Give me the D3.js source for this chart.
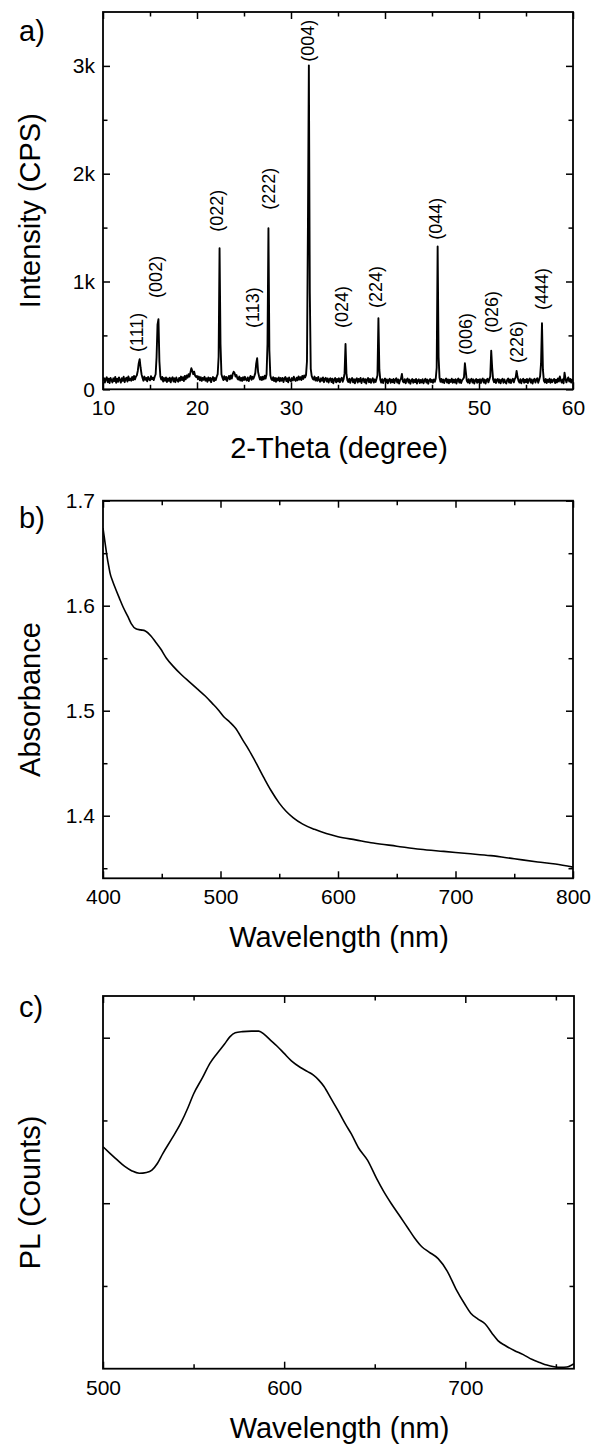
<!DOCTYPE html>
<html><head><meta charset="utf-8">
<script src="https://cdn.jsdelivr.net/npm/d3@7"></script>
<style>
html,body{margin:0;padding:0;background:#fff;}
svg text{font-family:"Liberation Sans", Arial, sans-serif; fill:#000;}
</style></head><body>
<svg id="chart" width="595" height="1447"></svg>
<script>
// ---------- Panel a: XRD (2-Theta from 10 to 60, step 0.1) ----------
const xrdStart = 10, xrdStep = 0.1;
const xrdCounts = [
 78,104, 62, 96,112, 66, 98, 58,106, 84,
 64,102, 76,114, 60, 98, 70,110, 86, 62,
104, 78,116, 66, 96,108, 72,120, 84,100,
 80,114, 86,124, 92,116,130,170,240,279,
200,140,108, 80,118, 88,106, 74,114, 92,
 84,122, 94,108, 86,116,140,300,600,650,
260,120, 90,114, 72,104, 80,110, 68,100,
 78,108, 64, 98,112, 72,102, 66,110, 84,
 70,106, 80,118, 86,112, 76,124, 92,128,
108,140,118,156,195,172,140,164,126,114,
124, 94,118, 84,112, 78,106, 88,116, 80,
102, 70,110, 82,106, 66, 98,114, 76,104,
 86,118,140,300,1309,420,140,110, 86,122,
 90,114, 76,106,124, 92,128,100,140,163,
150,118,132,100, 90,118, 82,106, 78,112,
 86,116, 90, 82,110, 76,104,124, 88,116,
 98,122,150,240,288,160,122, 90,114, 86,
116, 92,126,100,140,420,1495,360,130, 96,
 86,112, 76,106, 70,102, 82,110, 74,104,
 80,106, 68,100,114, 76,102, 64,110, 84,
 74,104, 82,116, 88, 78,108, 84,120, 90,
112, 86,124, 96,128,110,134,260,1500,3005,
900,190,124,100, 90,118, 82,106, 78,114,
 86, 70,102, 80,110, 66, 96,106, 72,100,
 62, 94,102, 68, 98, 56, 90,104, 64, 96,
 72,102, 66, 94,106, 70, 96,150,420,140,
 84, 68, 98, 60, 92,104, 64, 94, 56, 90,
102, 62, 96, 72,106, 58, 92,100, 64, 94,
 54, 90,104, 66, 96, 60, 86,102, 62, 92,
 68, 98,130,659,180, 88, 62, 94, 58, 86,
100, 64, 92, 56, 86, 98, 60, 90, 66, 96,
 58, 88,102, 62, 92, 54, 84, 98,142, 72,
 64, 94, 56, 86,100, 62, 90, 52, 82, 96,
 60, 88, 66, 96, 54, 84, 92, 58, 86, 64,
 94, 56, 82, 98, 62, 90, 52, 84, 96, 66,
 88, 60, 92, 70,100,200,1324,300,110, 70,
 96, 64, 90, 58, 86,100, 62, 92, 56, 88,
 68, 98, 60, 90, 64, 94, 54, 86,100, 62,
 90, 58, 84, 96,110,241,160, 80, 64, 94,
 56, 86, 98, 62, 92, 54, 84, 96, 60, 90,
 66, 94, 58, 88,100, 62, 90, 54, 86, 98,
 64, 92,120,358,200, 92, 66, 94, 58, 88,
 96, 62, 90, 56, 86, 98, 60, 92, 66, 54,
 88,100, 62, 92, 58, 86, 98, 64, 94,110,
170,116, 78, 62, 94, 56, 86, 98, 60, 90,
 66, 96, 58, 88,100, 62, 92, 54, 86, 98,
 62, 90,102, 60, 88,120,240,613,180, 80,
 64, 96, 58, 90, 68, 98, 60, 92, 66, 86,
 96, 58, 90, 64,100, 72,120, 82, 62, 92,
 56,154, 98, 64, 94,110, 72, 96, 62, 90,
 70
];
const xrdXTicks = [10, 20, 30, 40, 50, 60];
const xrdXMinor = [15, 25, 35, 45, 55];
const xrdYTicks = [0, 1000, 2000, 3000];
const xrdYMinor = [500, 1500, 2500];
const xrdYTickLabels = ["0", "1k", "2k", "3k"];
const peakLabels = ["(111)","(002)","(022)","(113)","(222)","(004)","(024)","(224)","(044)","(006)","(026)","(226)","(444)"];
const peakLabelTheta = [13.62, 15.64, 22.13, 25.9, 27.66, 31.81, 35.43, 39.04, 45.43, 48.62, 51.38, 54.04, 56.65];
const peakLabelCps = [346, 848, 1462, 569, 1665, 3039, 569, 755, 1387, 318, 523, 244, 736];

// ---------- Panel b: Absorbance ----------
const absWavelength = [400,401,402,403,404,405,406,408,410,414,417,421,424,428,432,436,441,445,449,454,460,467,474,480,487,493,498,503,508,513,519,524,529,537,543,550,556,562,570,580,590,600,615,630,650,670,690,710,730,750,770,785,800];
const absValue = [1.674,1.666,1.658,1.650,1.643,1.637,1.631,1.624,1.618,1.607,1.599,1.590,1.583,1.578,1.577,1.576,1.571,1.565,1.559,1.550,1.542,1.534,1.527,1.521,1.514,1.507,1.501,1.494,1.489,1.483,1.472,1.463,1.453,1.436,1.424,1.412,1.404,1.398,1.392,1.387,1.383,1.380,1.377,1.374,1.371,1.368,1.366,1.364,1.362,1.359,1.356,1.354,1.351];
const absXTicks = [400, 500, 600, 700, 800];
const absXMinor = [450, 550, 650, 750];
const absYTicks = [1.4, 1.5, 1.6, 1.7];
const absYMinor = [1.35, 1.45, 1.55, 1.65];

// ---------- Panel c: PL ----------
const plWavelength = [500,504,508,512,516,520,524,527,530,533,538,543,547,550,555,559,563,567,570,573,577,582,586,589,592,596,600,604,609,613,616,619,622,626,630,634,637,641,646,651,655,659,664,668,672,676,680,685,690,695,700,703,707,711,715,718,722,727,732,737,741,745,749,753,756,758,760];
const plCounts = [1341,1300,1260,1222,1195,1181,1186,1200,1240,1300,1390,1485,1580,1660,1760,1845,1905,1960,2005,2030,2037,2040,2040,2020,1990,1950,1905,1860,1820,1795,1775,1745,1705,1630,1555,1475,1420,1335,1260,1150,1070,1000,920,855,790,737,705,665,590,478,385,335,300,270,210,170,140,110,85,55,38,22,12,8,10,18,30];
const plXTicks = [500, 600, 700];
const plXMinor = [550, 650, 750];
const plYTicks = [1000, 2000];
const plYMinor = [500, 1500];

const svg = d3.select("#chart");
svg.append("rect").attr("width", 595).attr("height", 1447).attr("fill", "#fff");

function styleAxis(sel) {
  sel.select(".domain").remove();
  sel.attr("font-size", null).attr("font-family", null);
  sel.selectAll("line").attr("stroke", "#000").attr("stroke-width", 1.5);
  sel.selectAll("text").style("font-size", "21px");
}

function panel(o) {
  const w = o.right - o.left, h = o.bottom - o.top;
  const g = svg.append("g").attr("transform", `translate(${o.left},${o.top})`);
  const x = d3.scaleLinear().domain(o.xDomain).range([0, w]);
  const y = d3.scaleLinear().domain(o.yDomain).range([h, 0]);

  g.append("g").attr("transform", `translate(0,${h})`)
    .call(d3.axisBottom(x).tickValues(o.xTicks).tickSizeInner(-7).tickSizeOuter(0).tickPadding(11).tickFormat(d3.format("d")))
    .call(styleAxis);
  g.append("g").attr("transform", `translate(0,${h})`)
    .call(d3.axisBottom(x).tickValues(o.xMinor).tickSizeInner(-4.5).tickSizeOuter(0).tickFormat(""))
    .call(styleAxis);
  g.append("g").call(d3.axisTop(x).tickValues(o.xTicks).tickSizeInner(-7).tickSizeOuter(0).tickFormat("")).call(styleAxis);
  g.append("g").call(d3.axisTop(x).tickValues(o.xMinor).tickSizeInner(-4.5).tickSizeOuter(0).tickFormat("")).call(styleAxis);
  g.append("g")
    .call(d3.axisLeft(y).tickValues(o.yTicks).tickSizeInner(-7).tickSizeOuter(0).tickPadding(8).tickFormat(o.yFormat))
    .call(styleAxis);
  g.append("g").call(d3.axisLeft(y).tickValues(o.yMinor).tickSizeInner(-4.5).tickSizeOuter(0).tickFormat("")).call(styleAxis);
  g.append("g").attr("transform", `translate(${w},0)`)
    .call(d3.axisRight(y).tickValues(o.yTicks).tickSizeInner(-7).tickSizeOuter(0).tickFormat("")).call(styleAxis);
  g.append("g").attr("transform", `translate(${w},0)`)
    .call(d3.axisRight(y).tickValues(o.yMinor).tickSizeInner(-4.5).tickSizeOuter(0).tickFormat("")).call(styleAxis);

  const clipId = "clip" + o.id;
  g.append("clipPath").attr("id", clipId).append("rect").attr("width", w).attr("height", h);
  g.append("path")
    .datum(o.data)
    .attr("clip-path", `url(#${clipId})`)
    .attr("fill", "none").attr("stroke", "#000").attr("stroke-width", o.lineWidth)
    .attr("stroke-linejoin", "round")
    .attr("d", d3.line().curve(o.curve || d3.curveLinear).x(d => x(d[0])).y(d => y(d[1])));

  g.append("rect").attr("width", w).attr("height", h)
    .attr("fill", "none").attr("stroke", "#000").attr("stroke-width", 1.8);

  g.append("text").attr("x", w / 2 + 1).attr("y", h + 69)
    .attr("text-anchor", "middle").style("font-size", "29px").text(o.xTitle);
  g.append("text").attr("transform", `translate(${40 - o.left},${h / 2 + 10}) rotate(-90)`)
    .attr("text-anchor", "middle").style("font-size", "29px").text(o.yTitle);
  svg.append("text").attr("x", 19).attr("y", o.labelY).style("font-size", "29px").text(o.label);
  return { g, x, y };
}

// Panel a
const xrdData = xrdCounts.map((c, i) => [xrdStart + i * xrdStep, c]);
const pa = panel({
  id: "a", left: 103, right: 573, top: 12, bottom: 389.3,
  xDomain: [10, 60], yDomain: [0, 3500],
  xTicks: xrdXTicks, xMinor: xrdXMinor, yTicks: xrdYTicks, yMinor: xrdYMinor,
  yFormat: d => xrdYTickLabels[xrdYTicks.indexOf(d)],
  data: xrdData, lineWidth: 1.9,
  xTitle: "2-Theta (degree)", yTitle: "Intensity (CPS)", label: "a)", labelY: 41
});
peakLabels.forEach((t, i) => {
  pa.g.append("text")
    .attr("transform", `translate(${pa.x(peakLabelTheta[i])},${pa.y(peakLabelCps[i])}) rotate(-90)`)
    .attr("dy", "0.35em").style("font-size", "18px").text(t);
});

// Panel b
panel({
  id: "b", left: 103, right: 573, top: 500.7, bottom: 878.3,
  xDomain: [400, 800], yDomain: [1.3404, 1.7],
  xTicks: absXTicks, xMinor: absXMinor, yTicks: absYTicks, yMinor: absYMinor,
  yFormat: d3.format(".1f"),
  data: absWavelength.map((w, i) => [w, absValue[i]]), lineWidth: 1.6, curve: d3.curveMonotoneX,
  xTitle: "Wavelength (nm)", yTitle: "Absorbance", label: "b)", labelY: 528
});

// Panel c
panel({
  id: "c", left: 103, right: 574, top: 996, bottom: 1368.7,
  xDomain: [500, 760], yDomain: [0, 2252],
  xTicks: plXTicks, xMinor: plXMinor, yTicks: plYTicks, yMinor: plYMinor,
  yFormat: () => "",
  data: plWavelength.map((w, i) => [w, plCounts[i]]), lineWidth: 1.6, curve: d3.curveMonotoneX,
  xTitle: "Wavelength (nm)", yTitle: "PL (Counts)", label: "c)", labelY: 1017
});
</script></body></html>
